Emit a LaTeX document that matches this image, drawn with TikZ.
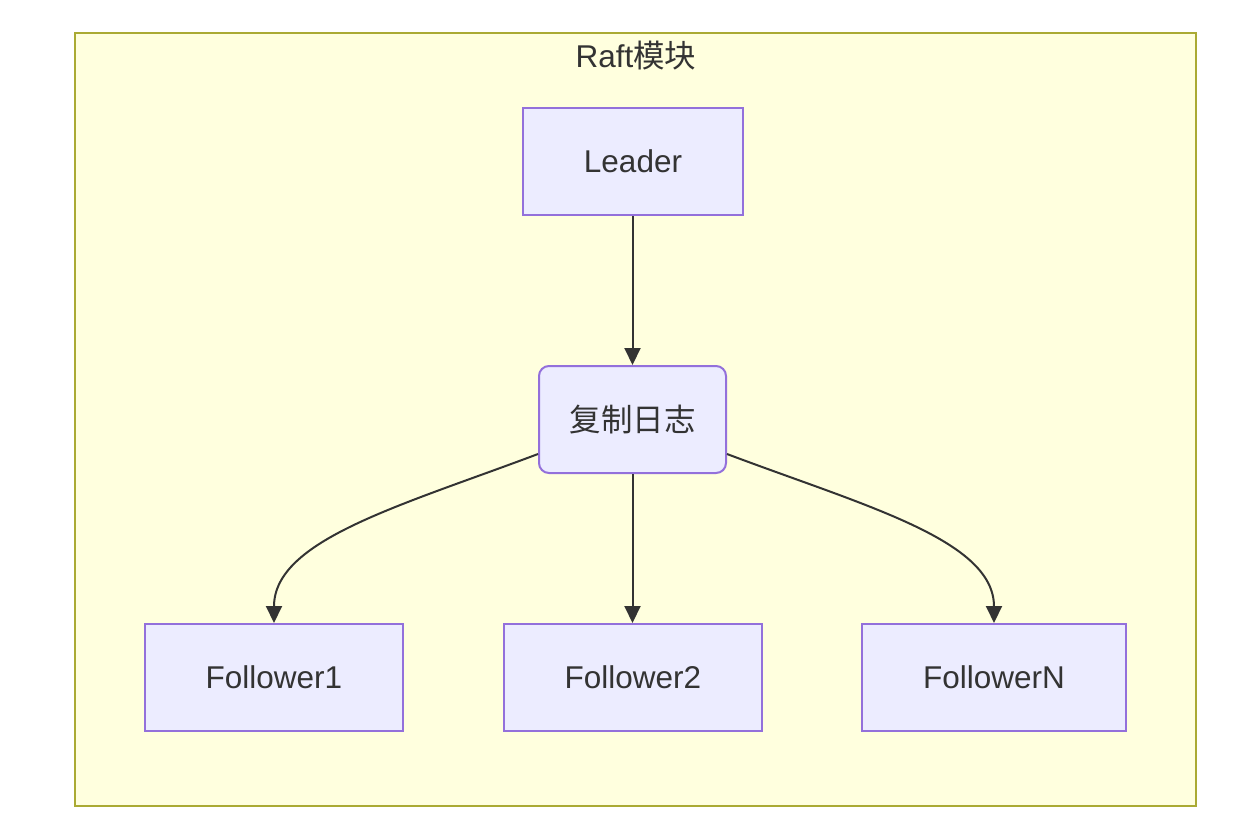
\documentclass[tikz,border=0pt]{standalone}
\usepackage{fontspec}
\setmainfont{Liberation Sans}
\newfontfamily\cjk{Noto Sans CJK SC}
\usetikzlibrary{arrows.meta}
\definecolor{clfill}{HTML}{FFFFDE}
\definecolor{cldraw}{HTML}{AAAA33}
\definecolor{ndfill}{HTML}{ECECFF}
\definecolor{nddraw}{HTML}{9370DB}
\definecolor{txt}{HTML}{333333}
\begin{document}
\begin{tikzpicture}[x=1pt,y=-1pt,
  every node/.style={text=txt,font=\fontsize{31.5}{38}\selectfont},
  box/.style={draw=nddraw,fill=ndfill,line width=2pt,inner sep=0pt},
  edge/.style={draw=txt,line width=2pt,-{Triangle[length=17pt,width=16pt]}}]
\useasboundingbox (0,0) rectangle (1258,838);
\fill[white] (0,0) rectangle (1258,838);
\draw[fill=clfill,draw=cldraw,line width=2pt] (75,33) rectangle (1196,806);
\node (title) at (636,56) {Raft{\cjk 模块}};
\node[box,minimum width=220pt,minimum height=107pt] (leader) at (633,161.5) {Leader};
\node[box,rounded corners=10pt,minimum width=187pt,minimum height=107pt] (log) at (632.5,419.5) {\cjk 复制日志};
\node[box,minimum width=258pt,minimum height=107pt] (f1) at (274,677.5) {Follower1};
\node[box,minimum width=258pt,minimum height=107pt] (f2) at (633,677.5) {Follower2};
\node[box,minimum width=264pt,minimum height=107pt] (fn) at (994,677.5) {FollowerN};
\draw[edge] (leader.south -| log.north) -- (log.north);
\draw[edge] (log.south) -- (log.south |- f2.north);
\draw[edge] ([yshift=-34.5pt]log.west) .. controls (400,506) and (274,540) .. (f1.north);
\draw[edge] ([yshift=-34.5pt]log.east) .. controls (865,506) and (994,540) .. (fn.north);
\end{tikzpicture}
\end{document}
